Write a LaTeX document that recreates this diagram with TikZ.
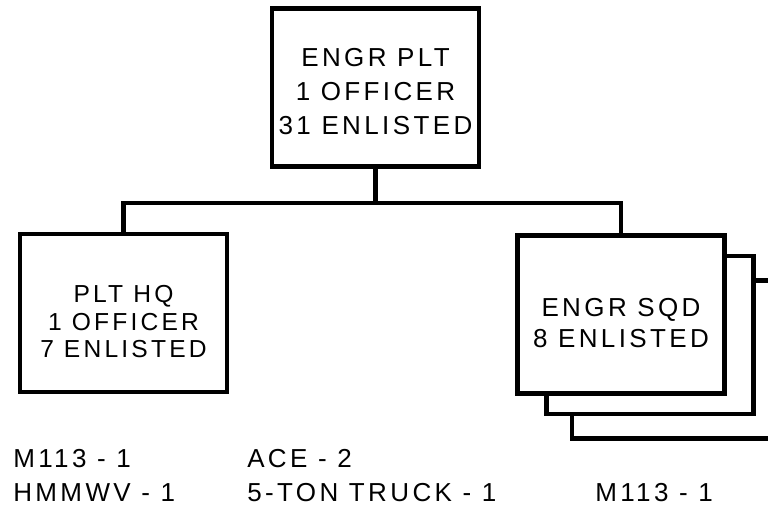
\documentclass[tikz,border=0pt]{standalone}
\usepackage{fontspec}
\setmainfont{Liberation Sans}[LetterSpace=13]
\usetikzlibrary{positioning,calc}

\begin{document}
\begin{tikzpicture}[
	unit/.style={
		draw,line width=3.3pt,fill=white,
		minimum width=5.175cm,minimum height=3.95cm,
		align=center,font=\fontsize{18.5}{22}\selectfont,text height=1.675cm
	},
	conn/.style={line width=3.3pt},
	eqp/.style={anchor=base west,inner sep=0pt,align=left,
		font=\fontsize{18.5}{24.2}\selectfont}
	]
	\useasboundingbox (0,0) rectangle (19.2,12.65);
	\clip (0,0) rectangle (19.2,12.65);

	% platoon
	\node[unit,font=\fontsize{18.5}{24.2}\selectfont,text height=2.375cm]
		(plt) at (9.3875,10.4625) {ENGR PLT\\1 OFFICER\\31 ENLISTED};

	% headquarters
	\node[unit,font=\fontsize{17.5}{19.6}\selectfont,text height=2.25cm]
		(hq) at (3.0875,4.825) {PLT HQ\\1 OFFICER\\7 ENLISTED};

	% squads, stacked back to front
	\node[unit] (sqdc) at (16.89,3.67) {};
	\node[unit] (sqdb) at (16.25,4.275) {};
	\node[unit] (sqd) at (15.525,4.7875) {ENGR SQD\\8 ENLISTED};

	\coordinate (bus) at (plt.south |- 0,7.575);
	\draw[conn] (plt.south) -- (bus);
	\draw[conn] (hq.north) |- (bus) -| (sqd.north);

	% equipment (anchored on the last line)
	\node[eqp] (hqeq) at (0.325,0.1) {M113 - 1\\HMMWV - 1};
	\node[eqp] (plteq) at (6.175,0.1) {ACE - 2\\5-TON TRUCK - 1};
	\node[eqp] (sqdeq) at (14.875,0.1) {M113 - 1};
\end{tikzpicture}
\end{document}
